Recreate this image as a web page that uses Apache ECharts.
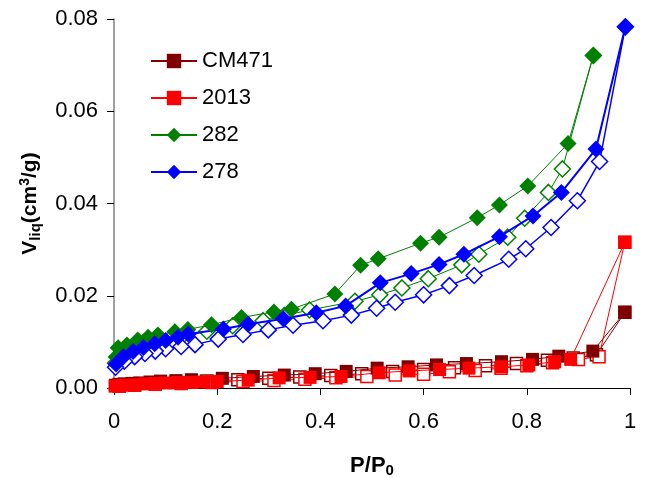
<!DOCTYPE html>
<html>
<head>
<meta charset="utf-8">
<script src="https://cdn.jsdelivr.net/npm/echarts@6/dist/echarts.min.js"></script>
<style>
    html, body { margin: 0; padding: 0; background: #fff; }
    #chart { width: 645px; height: 478px; }
</style>
</head>
<body>
<div id="chart"></div>
<script>
    // axis ticks
    var xTicks = [0, 0.2, 0.4, 0.6, 0.8, 1];
    var yTicks = [0, 0.02, 0.04, 0.06, 0.08];

    // CM471 adsorption / desorption [P/P0, V]
    var cmAds = [[0.003, 0.0006], [0.01, 0.0008], [0.02, 0.0009], [0.035, 0.001], [0.05, 0.0011], [0.07, 0.0013], [0.09, 0.0015], [0.12, 0.0016], [0.15, 0.0018], [0.21, 0.0021], [0.27, 0.0025], [0.33, 0.0028], [0.39, 0.0031], [0.45, 0.0036], [0.51, 0.0043], [0.57, 0.0046], [0.625, 0.005], [0.683, 0.0053], [0.751, 0.0057], [0.811, 0.0062], [0.862, 0.0069], [0.928, 0.008], [0.99, 0.0164]];
    var cmDes = [[0.99, 0.0164], [0.935, 0.0072], [0.89, 0.0065], [0.84, 0.006], [0.78, 0.0053], [0.72, 0.0048], [0.66, 0.0044], [0.6, 0.004], [0.54, 0.0036], [0.48, 0.0031], [0.42, 0.0027], [0.36, 0.0024], [0.3, 0.0021], [0.24, 0.0018], [0.18, 0.0015], [0.12, 0.0012], [0.08, 0.001], [0.04, 0.0008], [0.01, 0.0006]];

    // 2013
    var s2013Ads = [[0.002, 0.0004], [0.01, 0.0005], [0.02, 0.0006], [0.04, 0.0007], [0.06, 0.0009], [0.08, 0.001], [0.1, 0.0011], [0.125, 0.0012], [0.15, 0.0012], [0.175, 0.0013], [0.2, 0.0014], [0.26, 0.0017], [0.32, 0.0022], [0.38, 0.0023], [0.44, 0.0025], [0.514, 0.0033], [0.572, 0.0037], [0.631, 0.004], [0.688, 0.0043], [0.751, 0.0046], [0.804, 0.005], [0.854, 0.0057], [0.885, 0.0062], [0.99, 0.0316]];
    var s2013Des = [[0.99, 0.0316], [0.94, 0.0068], [0.9, 0.0062], [0.85, 0.0055], [0.8, 0.0048], [0.75, 0.0043], [0.7, 0.0038], [0.65, 0.0035], [0.6, 0.003], [0.545, 0.0028], [0.49, 0.0025], [0.43, 0.0022], [0.37, 0.0019], [0.31, 0.0016], [0.25, 0.0014], [0.19, 0.0012], [0.13, 0.001], [0.08, 0.0008], [0.04, 0.0006], [0.01, 0.0004]];

    // 282
    var s282Ads = [[0.004, 0.0067], [0.008, 0.0087], [0.025, 0.0093], [0.046, 0.0104], [0.066, 0.011], [0.085, 0.0115], [0.118, 0.0122], [0.143, 0.0127], [0.189, 0.0137], [0.247, 0.0153], [0.31, 0.0165], [0.344, 0.0171], [0.428, 0.0204], [0.478, 0.0266], [0.512, 0.028], [0.594, 0.0314], [0.63, 0.0327], [0.704, 0.0369], [0.747, 0.0397], [0.802, 0.0438], [0.88, 0.053], [0.929, 0.0721]];
    var s282Des = [[0.929, 0.0721], [0.869, 0.0475], [0.842, 0.0424], [0.796, 0.0368], [0.763, 0.0327], [0.707, 0.029], [0.674, 0.0267], [0.609, 0.0237], [0.558, 0.0217], [0.515, 0.0202], [0.467, 0.0188], [0.379, 0.0169], [0.33, 0.0157], [0.289, 0.0146], [0.23, 0.0135], [0.18, 0.0123], [0.13, 0.011], [0.09, 0.0099], [0.07, 0.0093], [0.05, 0.0087], [0.03, 0.0079], [0.015, 0.0069], [0.003, 0.0054]];

    // 278
    var s278Ads = [[0.004, 0.0052], [0.018, 0.0068], [0.037, 0.0079], [0.057, 0.0088], [0.079, 0.0096], [0.1, 0.0103], [0.124, 0.011], [0.144, 0.0117], [0.212, 0.0128], [0.26, 0.0138], [0.328, 0.015], [0.392, 0.0163], [0.449, 0.0178], [0.516, 0.0228], [0.576, 0.0248], [0.63, 0.0268], [0.678, 0.029], [0.747, 0.0328], [0.812, 0.0373], [0.867, 0.0424], [0.934, 0.0518], [0.991, 0.0783]];
    var s278Des = [[0.991, 0.0783], [0.941, 0.0491], [0.898, 0.0406], [0.847, 0.0348], [0.798, 0.0302], [0.765, 0.0279], [0.698, 0.0244], [0.65, 0.0222], [0.6, 0.0202], [0.545, 0.0186], [0.509, 0.0173], [0.46, 0.0158], [0.405, 0.0146], [0.347, 0.0136], [0.299, 0.0126], [0.25, 0.0116], [0.202, 0.0106], [0.157, 0.0094], [0.13, 0.009], [0.1, 0.0085], [0.08, 0.008], [0.06, 0.0075], [0.04, 0.0068], [0.02, 0.0058], [0.003, 0.0045]];

    var FONT = 'Liberation Sans, Arial, sans-serif';

    function ads(name, data, color, symbol, size, width) {
        return {
            name: name, type: 'line', data: data, symbol: symbol, symbolSize: size,
            lineStyle: { color: color, width: width },
            itemStyle: { color: color, borderWidth: 0 },
            animation: false, z: 3
        };
    }
    function des(name, data, color, symbol, size, width) {
        return {
            name: name, type: 'line', data: data, symbol: symbol, symbolSize: size,
            lineStyle: { color: color, width: width },
            itemStyle: { color: '#fff', borderColor: color, borderWidth: 1.5 },
            animation: false, z: 2
        };
    }

    var chart = echarts.init(document.getElementById('chart'));
    chart.setOption({
        backgroundColor: '#fff',
        grid: { left: 114, right: 15, top: 19, bottom: 90, containLabel: false, outerBoundsMode: 'none' },
        legend: {
            data: ['CM471', '2013', '282', '278'],
            orient: 'vertical', left: 145, top: 45, itemTextGap: 3,
            itemWidth: 46, itemHeight: 18, itemGap: 15,
            textStyle: { fontFamily: FONT, fontSize: 22, color: '#000' }
        },
        xAxis: {
            type: 'value', min: xTicks[0], max: xTicks[xTicks.length - 1], interval: 0.2,
            splitLine: { show: false },
            axisLine: { lineStyle: { color: '#000', width: 1 } },
            axisTick: { inside: false, length: 7, lineStyle: { color: '#000' } },
            axisLabel: { fontFamily: FONT, fontSize: 22, color: '#000', margin: 23 },
            name: '{b|P/P}{s|0}', nameLocation: 'middle', nameGap: 65,
            nameTextStyle: {
                rich: {
                    b: { fontFamily: FONT, fontSize: 22, fontWeight: 'bold', color: '#000' },
                    s: { fontFamily: FONT, fontSize: 15, fontWeight: 'bold', color: '#000', verticalAlign: 'bottom', padding: [10, 0, 0, 0] }
                }
            }
        },
        yAxis: {
            type: 'value', min: yTicks[0], max: yTicks[yTicks.length - 1], interval: 0.02,
            splitLine: { show: false },
            axisLine: { show: true, lineStyle: { color: '#808080', width: 1.5 } },
            axisTick: { show: true, inside: false, length: 7, lineStyle: { color: '#000' } },
            axisLabel: {
                fontFamily: FONT, fontSize: 22, color: '#000', margin: 16,
                formatter: function (v) { return v.toFixed(2); }
            },
            name: '{b|V}{s|liq}{b|(cm}{u|3}{b|/g)}', nameLocation: 'middle', nameGap: 71, nameRotate: 90,
            nameTextStyle: {
                rich: {
                    b: { fontFamily: FONT, fontSize: 21, fontWeight: 'bold', color: '#000' },
                    s: { fontFamily: FONT, fontSize: 15, fontWeight: 'bold', color: '#000', padding: [11, 0, 0, 0] },
                    u: { fontFamily: FONT, fontSize: 14, fontWeight: 'bold', color: '#000', padding: [0, 0, 9, 0] }
                }
            }
        },
        series: [
            des('CM471 des', cmDes, '#800000', 'rect', 12, 1),
            des('2013 des', s2013Des, '#FF0000', 'rect', 12, 1),
            des('282 des', s282Des, '#008000', 'diamond', 16, 1),
            des('278 des', s278Des, '#0000FF', 'diamond', 16, 1.5),
            ads('CM471', cmAds, '#800000', 'rect', 13, 1),
            ads('2013', s2013Ads, '#FF0000', 'rect', 13, 1),
            ads('282', s282Ads, '#008000', 'diamond', 17, 1),
            ads('278', s278Ads, '#0000FF', 'diamond', 17, 2)
        ]
    });
</script>
</body>
</html>
